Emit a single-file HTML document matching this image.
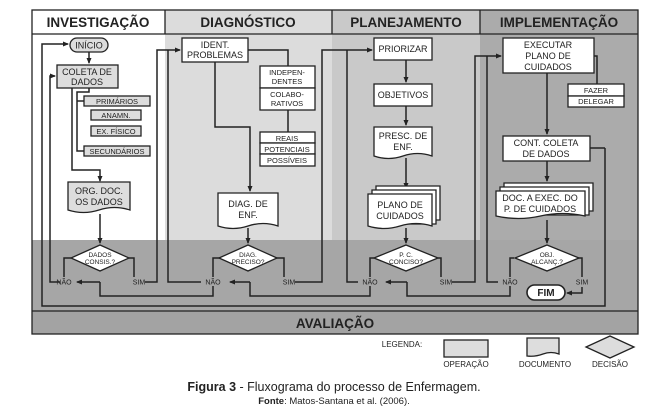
<!DOCTYPE html>
<html><head><meta charset="utf-8"><style>
body{margin:0;background:#fff;}
svg{display:block;font-family:"Liberation Sans",Arial,sans-serif;}
</style></head><body>
<svg width="669" height="411" viewBox="0 0 669 411" xmlns="http://www.w3.org/2000/svg">
<defs>
<marker id="a" markerWidth="6" markerHeight="6" refX="5" refY="3" orient="auto" markerUnits="userSpaceOnUse"><path d="M0,0.5 L6,3 L0,5.5 Z" fill="#222"/></marker>
</defs>
<!-- column backgrounds -->
<rect x="32" y="10" width="133" height="230" fill="#fff"/>
<rect x="165" y="10" width="167" height="230" fill="#dcdcdc"/>
<rect x="332" y="10" width="148" height="230" fill="#c9c9c9"/>
<rect x="480" y="10" width="158" height="230" fill="#ababab"/>
<rect x="32" y="240" width="606" height="71" fill="#a6a6a6"/>
<rect x="32" y="311" width="606" height="23" fill="#a3a3a3"/>
<g stroke="#222" stroke-width="1.3" fill="none">
<rect x="32" y="10" width="606" height="324"/>
<line x1="32" y1="34" x2="638" y2="34"/>
<line x1="165" y1="10" x2="165" y2="34"/>
<line x1="332" y1="10" x2="332" y2="34"/>
<line x1="480" y1="10" x2="480" y2="34"/>
<line x1="32" y1="311" x2="638" y2="311"/>
</g>
<g font-weight="bold" font-size="13.5" text-anchor="middle" fill="#222">
<text x="98" y="27">INVESTIGAÇÃO</text>
<text x="248" y="27">DIAGNÓSTICO</text>
<text x="406" y="27">PLANEJAMENTO</text>
<text x="559" y="27">IMPLEMENTAÇÃO</text>
<text x="335" y="328">AVALIAÇÃO</text>
</g>
<!-- connectors -->
<g stroke="#222" stroke-width="1.5" fill="none">
<polyline points="605,148 605,306 42,306 42,44 68,44" marker-end="url(#a)"/>
<line x1="590" y1="148" x2="605" y2="148"/>
<polyline points="60,282 50,282 50,76 55,76" marker-end="url(#a)"/>
<line x1="89" y1="52" x2="89" y2="63" marker-end="url(#a)"/>
<polyline points="89,88 89,92 77,92 77,151 84,151"/>
<line x1="77" y1="101" x2="84" y2="101"/>
<polyline points="72,88 72,170 100,170 100,181" marker-end="url(#a)"/>
<line x1="100" y1="214" x2="100" y2="243" marker-end="url(#a)"/>
<polyline points="71,258 64,258 64,277"/>
<polyline points="129,258 134,258 134,277"/>
<polyline points="145,282 157,282 157,50 180,50" marker-end="url(#a)"/>
<polyline points="100,282 100,296 213,296 213,286"/>
<line x1="100" y1="282" x2="77" y2="282" marker-end="url(#a)"/>
<!-- col2 -->
<polyline points="248,50 288,50 288,66"/>
<line x1="288" y1="110" x2="288" y2="132"/>
<polyline points="215,62 215,127 250,127 250,191" marker-end="url(#a)"/>
<line x1="248" y1="228" x2="248" y2="243" marker-end="url(#a)"/>
<polyline points="220,258 213,258 213,277"/>
<polyline points="276,258 284,258 284,277"/>
<polyline points="201,282 168,282 168,50"/>
<polyline points="295,282 322,282 322,50 372,50" marker-end="url(#a)"/>
<polyline points="250,282 250,296 370,296 370,286"/>
<line x1="250" y1="282" x2="230" y2="282" marker-end="url(#a)"/>
<!-- col3 -->
<line x1="406" y1="60" x2="406" y2="82" marker-end="url(#a)"/>
<line x1="406" y1="106" x2="406" y2="125" marker-end="url(#a)"/>
<line x1="406" y1="158" x2="406" y2="188" marker-end="url(#a)"/>
<line x1="406" y1="228" x2="406" y2="243" marker-end="url(#a)"/>
<polyline points="374,258 370,258 370,277"/>
<polyline points="438,258 441,258 441,277"/>
<polyline points="358,282 347,282 347,50"/>
<polyline points="452,282 475,282 475,56 501,56" marker-end="url(#a)"/>
<polyline points="407,282 407,296 510,296 510,286"/>
<line x1="407" y1="282" x2="386" y2="282" marker-end="url(#a)"/>
<!-- col4 -->
<polyline points="594,56 597,56 597,84"/>
<line x1="547" y1="73" x2="547" y2="134" marker-end="url(#a)"/>
<line x1="547" y1="161" x2="547" y2="181" marker-end="url(#a)"/>
<line x1="547" y1="220" x2="547" y2="243" marker-end="url(#a)"/>
<polyline points="514,258 510,258 510,277"/>
<polyline points="578,258 582,258 582,277"/>
<polyline points="498,282 487,282 487,56"/>
<polyline points="582,287 582,293 567,293" marker-end="url(#a)"/>
</g>
<!-- nodes -->
<g stroke="#222" stroke-width="1.3">
<rect x="70" y="38" width="38" height="14" rx="7" fill="#ddd"/>
<rect x="57" y="65" width="61" height="23" fill="#ddd"/>
<rect x="84" y="96" width="66" height="10" fill="#ddd"/>
<rect x="91" y="110" width="50" height="10" fill="#ddd"/>
<rect x="91" y="126" width="50" height="10" fill="#ddd"/>
<rect x="84" y="146" width="66" height="10" fill="#ddd"/>
<path d="M68,182 H130 V210 Q114.5,205 99,210 T68,210 Z" fill="#ddd"/>
<polygon points="100,245 129,258 100,271 71,258" fill="#fff"/>
<rect x="182" y="38" width="66" height="24" fill="#fff"/>
<rect x="260" y="66" width="55" height="22" fill="#fff"/>
<rect x="260" y="88" width="55" height="22" fill="#fff"/>
<rect x="260" y="132" width="55" height="11" fill="#fff"/>
<rect x="260" y="143" width="55" height="11" fill="#fff"/>
<rect x="260" y="154" width="55" height="12" fill="#fff"/>
<path d="M218,193 H278 V226 Q263,221 248,226 T218,226 Z" fill="#fff"/>
<polygon points="248,245 277,258 248,271 219,258" fill="#fff"/>
<rect x="374" y="38" width="58" height="22" fill="#fff"/>
<rect x="374" y="84" width="58" height="22" fill="#fff"/>
<path d="M374,127 H432 V156 Q417.5,151 403,156 T374,156 Z" fill="#fff"/>
<path d="M376,186 H440 V220 H376 Z" fill="#fff"/>
<path d="M372,190 H436 V224 H372 Z" fill="#fff"/>
<path d="M368,194 H432 V226 Q416,221 400,226 T368,226 Z" fill="#fff"/>
<polygon points="406,245 438,258 406,271 374,258" fill="#fff"/>
<rect x="503" y="38" width="91" height="35" fill="#fff"/>
<rect x="568" y="84" width="56" height="12" fill="#fff"/>
<rect x="568" y="96" width="56" height="11" fill="#fff"/>
<rect x="503" y="136" width="87" height="25" fill="#fff"/>
<path d="M504,183 H593 V211 H504 Z" fill="#fff"/>
<path d="M500,187 H589 V215 H500 Z" fill="#fff"/>
<path d="M496,191 H585 V216 Q562.5,211 540.5,216 T496,216 Z" fill="#fff"/>
<polygon points="547,245 579,258 547,271 515,258" fill="#fff"/>
<rect x="527" y="285" width="38" height="15" rx="7.5" fill="#fff" stroke-width="1.6"/>
<!-- legend -->
<rect x="444" y="340" width="44" height="17" fill="#ddd"/>
<path d="M527,338 H559 V354 Q551,351 543,354 T527,356 Z" fill="#ddd"/>
<polygon points="610,336 634,347 610,358 586,347" fill="#ddd"/>
</g>
<g font-size="9" text-anchor="middle" fill="#222">
<text x="89" y="48.5">INÍCIO</text>
<text x="87" y="75">COLETA DE</text><text x="87" y="85">DADOS</text>
<text x="117" y="104" font-size="7.5">PRIMÁRIOS</text>
<text x="116" y="118" font-size="7.5">ANAMN.</text>
<text x="116" y="134" font-size="7.5">EX. FÍSICO</text>
<text x="117" y="154" font-size="7.5">SECUNDÁRIOS</text>
<text x="99" y="194">ORG. DOC.</text><text x="99" y="205">OS DADOS</text>
<text x="100" y="257" font-size="6.5">DADOS</text><text x="100" y="264" font-size="6.5">CONSIS.?</text>
<text x="215" y="48">IDENT.</text><text x="215" y="58">PROBLEMAS</text>
<text x="287" y="75" font-size="7.5">INDEPEN-</text><text x="287" y="84" font-size="7.5">DENTES</text>
<text x="287" y="97" font-size="7.5">COLABO-</text><text x="287" y="106" font-size="7.5">RATIVOS</text>
<text x="287" y="141" font-size="7.5">REAIS</text>
<text x="287" y="152" font-size="7.5">POTENCIAIS</text>
<text x="287" y="163" font-size="7.5">POSSÍVEIS</text>
<text x="248" y="207">DIAG. DE</text><text x="248" y="218">ENF.</text>
<text x="248" y="257" font-size="6.5">DIAG.</text><text x="248" y="264" font-size="6.5">PRECISO?</text>
<text x="403" y="52">PRIORIZAR</text>
<text x="403" y="98">OBJETIVOS</text>
<text x="403" y="139">PRESC. DE</text><text x="403" y="150">ENF.</text>
<text x="400" y="208">PLANO DE</text><text x="400" y="219">CUIDADOS</text>
<text x="406" y="257" font-size="6.5">P. C.</text><text x="406" y="264" font-size="6.5">CONCISO?</text>
<text x="548" y="48">EXECUTAR</text><text x="548" y="59">PLANO DE</text><text x="548" y="70">CUIDADOS</text>
<text x="596" y="93" font-size="7.5">FAZER</text>
<text x="596" y="104" font-size="7.5">DELEGAR</text>
<text x="546" y="146">CONT. COLETA</text><text x="546" y="157">DE DADOS</text>
<text x="540" y="201">DOC. A EXEC. DO</text><text x="540" y="212">P. DE CUIDADOS</text>
<text x="547" y="257" font-size="6.5">OBJ.</text><text x="547" y="264" font-size="6.5">ALCANÇ.?</text>
<text x="546" y="296" font-weight="bold" font-size="10">FIM</text>
<g font-size="7">
<text x="64" y="284.5">NÃO</text><text x="139" y="284.5">SIM</text>
<text x="213" y="284.5">NÃO</text><text x="289" y="284.5">SIM</text>
<text x="370" y="284.5">NÃO</text><text x="446" y="284.5">SIM</text>
<text x="510" y="284.5">NÃO</text><text x="582" y="284.5">SIM</text>
<text x="402" y="347" font-size="8">LEGENDA:</text>
<text x="466" y="367" font-size="8">OPERAÇÃO</text>
<text x="545" y="367" font-size="8">DOCUMENTO</text>
<text x="610" y="367" font-size="8">DECISÃO</text>
</g>
<text x="334" y="391" font-size="12.5"><tspan font-weight="bold">Figura 3</tspan> - Fluxograma do processo de Enfermagem.</text>
<text x="334" y="404" font-size="9.5"><tspan font-weight="bold">Fonte</tspan>: Matos-Santana et al. (2006).</text>
</g>
</svg>
</body></html>
